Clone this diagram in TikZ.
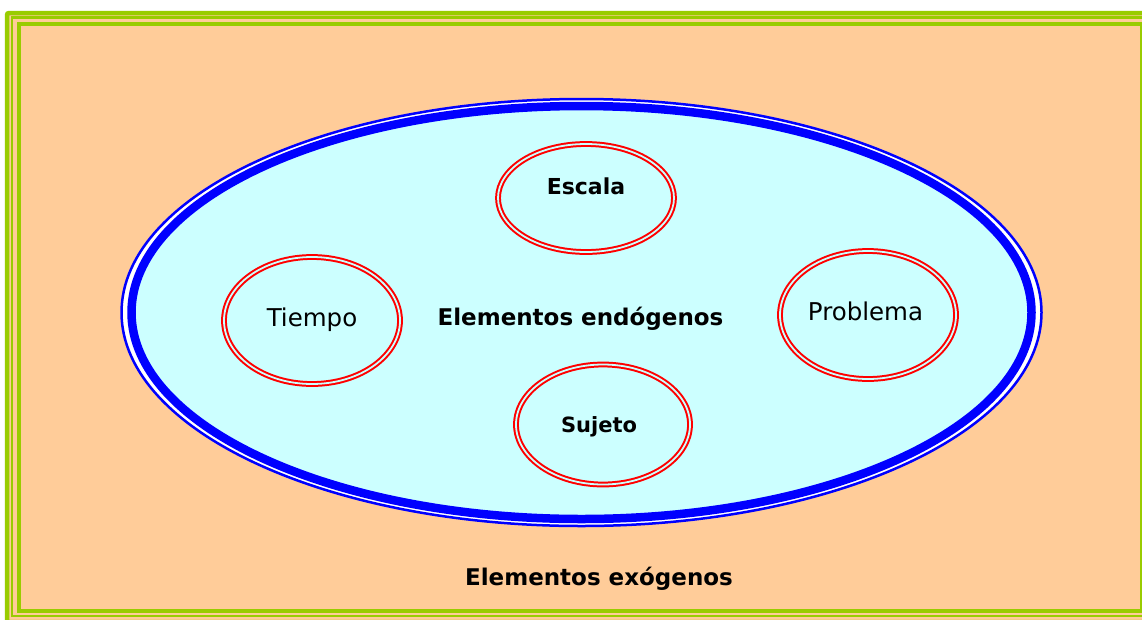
\documentclass[tikz,border=0pt]{standalone}
\usepackage{fontspec}
\setmainfont{DejaVu Sans}
\usepackage{tikz}
\usetikzlibrary{shapes.geometric}

\definecolor{framegreen}{HTML}{99CC00}
\definecolor{exobg}{HTML}{FFCC99}
\definecolor{endobg}{HTML}{CCFFFF}

\begin{document}
\begin{tikzpicture}[x=1pt, y=-1pt,
    frameline/.style={draw=framegreen, line width=#1},
    ring/.style={ellipse, draw=red, double=endobg, double distance=1.8pt, line width=2pt,
                 inner sep=0pt, minimum width=176pt, minimum height=#1},
    lbl/.style={anchor=base, font=\fontsize{22}{26}\selectfont\bfseries},
    lblthin/.style={anchor=base, font=\fontsize{24.5}{28}\selectfont},
    lblbig/.style={anchor=base, font=\fontsize{23}{27}\selectfont\bfseries},
]
\useasboundingbox (0,0) rectangle (1142,619);
\clip (0,0) rectangle (1142,619);
\fill[white] (0,0) rectangle (1142,619);

% --- Exogenous frame ---
\fill[exobg, rounded corners=2pt] (7,13) rectangle (1160,630);
\draw[frameline=4.5pt, rounded corners=2pt] (7,13) rectangle (1154,622);
\draw[frameline=2.5pt] (12,17.5) rectangle (1148,616);
\draw[frameline=4.5pt] (19,24) rectangle (1142,611);

% --- Endogenous ellipse ---
\node[ellipse, draw=blue, fill=white, line width=2.5pt, inner sep=0pt,
      minimum width=920pt, minimum height=427pt] (endo-rim) at (581.5,312.5) {};
\node[ellipse, draw=blue, fill=endobg, line width=8.5pt, inner sep=0pt,
      minimum width=900pt, minimum height=413pt] (endo) at (581.5,312.5) {};

% --- Elements ---
\node[ring=108pt] (escala) at (586,198) {};
\node[ring=127pt] (tiempo) at (312,320.5) {};
\node[ring=128pt] (problema) at (868,315) {};
\node[ring=120pt, minimum width=174pt] (sujeto) at (603,424.5) {};

% --- Labels ---
\node[lbl] (escala-lbl) at (586,194) {Escala};
\node[lblthin] (tiempo-lbl) at (312,326) {Tiempo};
\node[lblthin] (problema-lbl) at (865.5,320) {Problema};
\node[lbl, font=\fontsize{21}{25}\selectfont\bfseries] (sujeto-lbl) at (599,432) {Sujeto};
\node[lblbig] (endo-lbl) at (580.5,325) {Elementos endógenos};
\node[lblbig] (exo-lbl) at (599,585) {Elementos exógenos};

\end{tikzpicture}
\end{document}
